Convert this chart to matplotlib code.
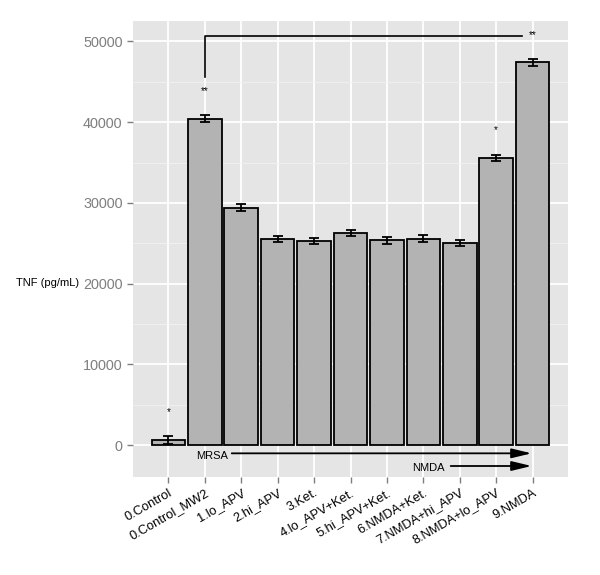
import numpy as np
import matplotlib.pyplot as plt
from matplotlib.ticker import MultipleLocator

plt.rcParams['font.family'] = ['Liberation Sans', 'DejaVu Sans']

groups = ["0.Control", "0.Control_MW2", "1.lo_APV", "2.hi_APV", "3.Ket.",
          "4.lo_APV+Ket.", "5.hi_APV+Ket.", "6.NMDA+Ket.", "7.NMDA+hi_APV",
          "8.NMDA+lo_APV", "9.NMDA"]
tnf = [620, 40450, 29400, 25550, 25300, 26300, 25350, 25580, 25020, 35550, 47400]
err = [480, 420, 420, 400, 400, 400, 400, 400, 400, 420, 380]
stars = ["*", "**", "", "", "", "", "", "", "", "*", ""]
star_y = [4100, 43900, 0, 0, 0, 0, 0, 0, 0, 39000, 0]

x = np.arange(1, len(groups) + 1)

fig = plt.figure(figsize=(6, 5.75), dpi=100)
ax = fig.add_axes([0.2217, 0.1704, 0.725, 0.7931])
ax.set_facecolor('#E5E5E5')
for s in ax.spines.values():
    s.set_visible(False)

ax.yaxis.set_major_locator(MultipleLocator(10000))
ax.yaxis.set_minor_locator(MultipleLocator(5000))
ax.grid(True, which='major', color='white', linewidth=1.3)
ax.grid(True, which='minor', axis='y', color='#F2F2F2', linewidth=0.6)
ax.set_axisbelow(True)

ax.bar(x, tnf, width=0.92, color='#B3B3B3', edgecolor='black', linewidth=1.3, zorder=2)
ax.errorbar(x, tnf, yerr=err, fmt='none', ecolor='black', elinewidth=1.3,
            capsize=3.3, capthick=1.3, zorder=3)

for xi, s, sy in zip(x, stars, star_y):
    if s:
        ax.text(xi, sy, s, ha='center', va='center', fontsize=7)

# bracket from MW2 to NMDA
ax.plot([2, 2, 10.72], [45600, 50720, 50720], color='black', linewidth=1.2, zorder=4)
ax.text(11, 50750, "**", ha='center', va='center', fontsize=7)

# MRSA / NMDA arrows
arrow = dict(arrowstyle='-|>,head_length=0.75,head_width=0.18', color='black',
             lw=1.3, mutation_scale=16, shrinkA=0, shrinkB=0)
ax.annotate("", xy=(10.97, -1030), xytext=(2.74, -1030), arrowprops=arrow)
ax.text(2.19, -1300, "MRSA", ha='center', va='center', fontsize=8)
ax.annotate("", xy=(10.97, -2600), xytext=(8.75, -2600), arrowprops=arrow)
ax.text(8.15, -2850, "NMDA", ha='center', va='center', fontsize=8)

ax.set_xlim(0.03, 11.97)
ax.set_ylim(-3965, 52540)
ax.set_xticks(x)
ax.set_xticklabels(groups, rotation=30, ha='right', rotation_mode='anchor', fontsize=9.3)
ax.tick_params(axis='both', which='major', color='#7F7F7F', length=4, width=1)
ax.tick_params(axis='y', which='minor', length=0)
ax.tick_params(axis='y', labelcolor='#7F7F7F', labelsize=10.4)
ax.tick_params(axis='x', pad=3)

fig.text(0.026, 1 - 283 / 575, "TNF (pg/mL)", ha='left', va='center', fontsize=8)

fig.savefig("out.png", dpi=100)
